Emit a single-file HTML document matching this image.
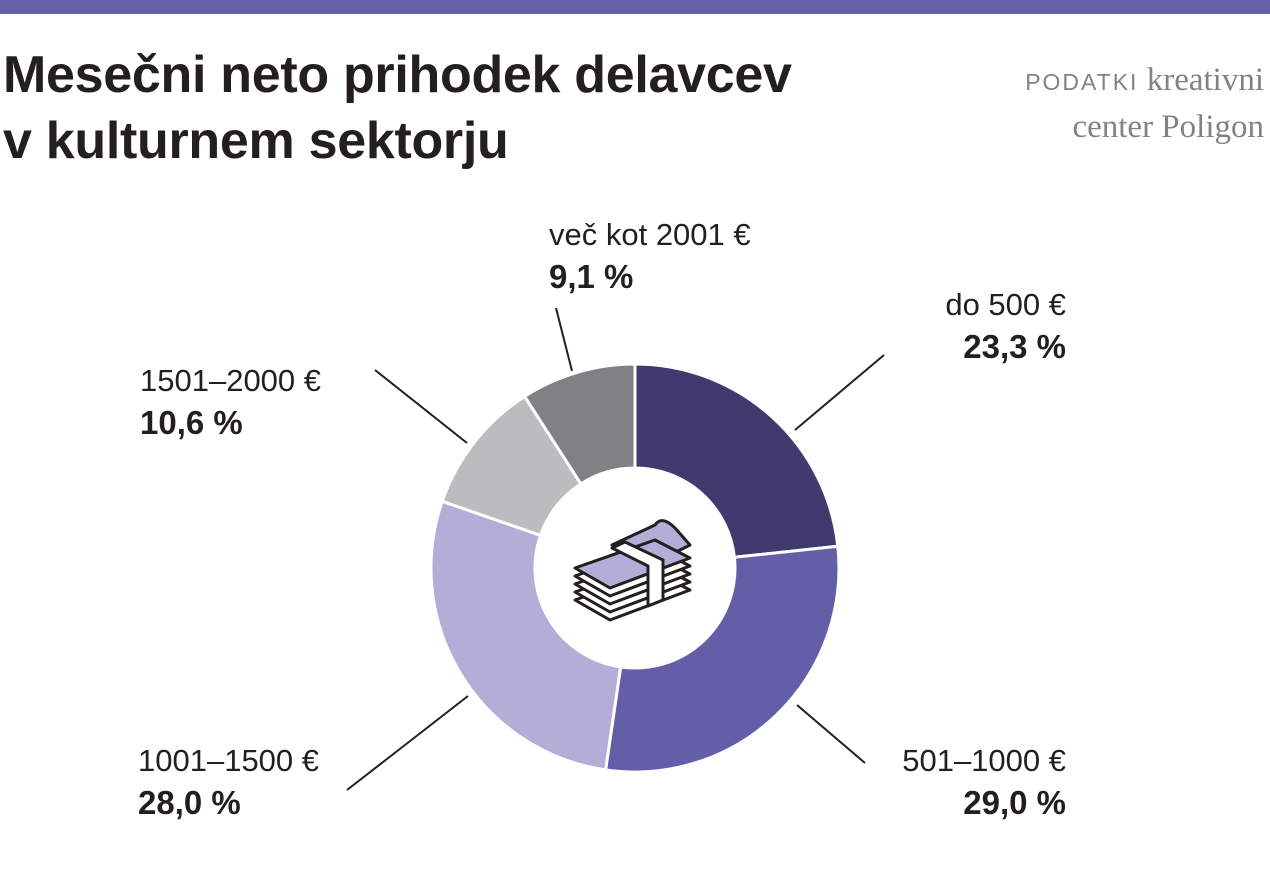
<!DOCTYPE html>
<html><head><meta charset="utf-8"><style>
body{margin:0;width:1270px;height:887px;background:#fff;overflow:hidden;font-family:"Liberation Sans",sans-serif;color:#231f20}
.bar{position:absolute;left:0;top:0;width:1270px;height:14px;background:#6560a8}
.t{position:absolute;left:3px;top:42px;font-size:52px;font-weight:bold;line-height:66px;letter-spacing:-0.3px}
.src{position:absolute;right:6px;top:58px;text-align:right;font-family:"Liberation Serif",serif;font-size:33px;color:#808285;line-height:45px}
.src span{font-family:"Liberation Sans",sans-serif;font-size:23px;letter-spacing:2px}
.l{position:absolute;font-size:31px;line-height:42px;white-space:nowrap}
.l b{font-weight:bold;font-size:33px}
</style></head><body>
<div class="bar"></div>
<div class="t">Mesečni neto prihodek delavcev<br>v kulturnem sektorju</div>
<div class="src"><span>PODATKI</span> kreativni<br>center Poligon</div>
<svg width="1270" height="887" style="position:absolute;left:0;top:0">
<g stroke="#fff" stroke-width="3" stroke-linejoin="round">
<path d="M635,364 A204,204 0 0 1 837.8,546.3 L734.4,557.3 A100,100 0 0 0 635,468Z" fill="#413a6f"/>
<path d="M837.8,546.3 A204,204 0 0 1 605.6,769.9 L620.6,667 A100,100 0 0 0 734.4,557.3Z" fill="#645ea8"/>
<path d="M605.6,769.9 A204,204 0 0 1 442.2,501.3 L540.5,535.3 A100,100 0 0 0 620.6,667Z" fill="#b3aed8"/>
<path d="M442.2,501.3 A204,204 0 0 1 524.6,396.4 L580.9,483.9 A100,100 0 0 0 540.5,535.3Z" fill="#bbbcbe"/>
<path d="M524.6,396.4 A204,204 0 0 1 635,364 L635,468 A100,100 0 0 0 580.9,483.9Z" fill="#808185"/>
</g>
<g stroke="#231f20" stroke-width="2">
<line x1="795" y1="430" x2="884" y2="355"/>
<line x1="797" y1="705" x2="865" y2="763"/>
<line x1="468" y1="696" x2="347" y2="790"/>
<line x1="467" y1="443" x2="375" y2="370"/>
<line x1="572" y1="371" x2="556" y2="308"/>
</g>
<g stroke="#231f20" stroke-width="3" stroke-linejoin="round" fill="#fff">
<path d="M575,600 L610,620 L690,590 L655,572Z"/>
<path d="M575,592 L610,612 L690,582 L655,564Z"/>
<path d="M575,584 L610,604 L690,574 L655,556Z"/>
<path d="M575,576 L610,596 L690,566 L655,548Z"/>
<path d="M612,545 L655,525 Q662,515 675,528 L690,545 L650,565Z" fill="#b3aed8"/>
<path d="M575,568 L610,588 L690,558 L655,540Z" fill="#b3aed8"/>
<path d="M612,548 L625,542 L663,560 L663,600 L648,606 L648,566Z" fill="#fff"/>
</g>
</svg>
<div class="l" style="left:549px;top:214px">več kot 2001 €<br><b>9,1 %</b></div>
<div class="l" style="right:204px;top:284px;text-align:right">do 500 €<br><b>23,3 %</b></div>
<div class="l" style="left:140px;top:360px">1501–2000 €<br><b>10,6 %</b></div>
<div class="l" style="left:138px;top:740px">1001–1500 €<br><b>28,0 %</b></div>
<div class="l" style="right:204px;top:740px;text-align:right">501–1000 €<br><b>29,0 %</b></div>
</body></html>
